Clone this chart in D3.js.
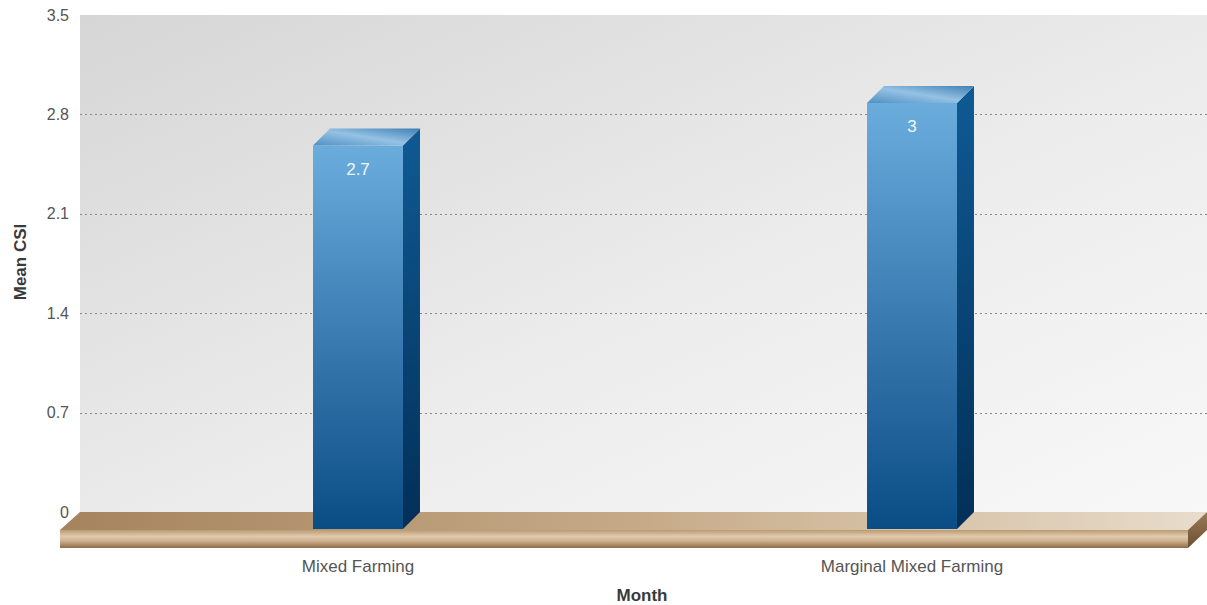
<!DOCTYPE html>
<html>
<head>
<meta charset="utf-8">
<script src="https://cdn.jsdelivr.net/npm/d3@7"></script>
<style>
  html, body { margin: 0; padding: 0; background: #ffffff; }
  svg { display: block; font-family: "Liberation Sans", Arial, Helvetica, sans-serif; }
</style>
</head>
<body>
<svg id="chart" width="1207" height="605"></svg>
<script>
// Chart data
const categories = ["Mixed Farming", "Marginal Mixed Farming"];
const meanCSI = [2.7, 3];
const yTicks = [0, 0.7, 1.4, 2.1, 2.8, 3.5];
const xTitle = "Month";
const yTitle = "Mean CSI";

const svg = d3.select("#chart");

// Geometry of the 3D scene
const wall = { left: 80, right: 1207, top: 15, bottom: 512 };
const depth = 17;          // bar depth (offset up/right)
const floorDx = 20, floorDy = 18, floorThick = 18;

// Scales: back wall for gridlines, front plane for bars
const yBack = d3.scaleLinear().domain([0, 3.5]).range([wall.bottom, wall.top]);
const yFront = d3.scaleLinear().domain([0, 3.5]).range([wall.bottom + depth, wall.top + depth]);
const x = d3.scaleBand().domain(categories).range([81, 1189]).paddingInner(0.8376).paddingOuter(0.4188);

const defs = svg.append("defs");
function lin(id, x1, y1, x2, y2, stops) {
  const g = defs.append("linearGradient").attr("id", id)
    .attr("x1", x1).attr("y1", y1).attr("x2", x2).attr("y2", y2);
  stops.forEach(([o, c]) => g.append("stop").attr("offset", o).attr("stop-color", c));
}
lin("wallGrad", 0, 0, 1, 1, [[0, "#d6d6d6"], [0.55, "#ececec"], [1, "#f8f8f8"]]);
lin("floorTop", 0, 0, 1, 0, [[0, "#a5835e"], [0.5, "#c6aa87"], [1, "#e8dccb"]]);
lin("floorFront", 0, 0, 0, 1, [[0, "#bb9a73"], [0.35, "#dfcaad"], [0.6, "#cfb290"], [1, "#8d6b48"]]);
lin("floorSide", 0, 0, 0, 1, [[0, "#9a7a55"], [1, "#6d5033"]]);
lin("barFront", 0, 0, 0, 1, [[0, "#6aaddd"], [0.5, "#3a7bb1"], [1, "#0a4d85"]]);
lin("barSide", 0, 0, 0, 1, [[0, "#0f5a94"], [1, "#022f57"]]);
lin("barTop", 0, 1, 1, 0, [[0, "#4f8fc3"], [0.5, "#95c2e4"], [1, "#3f7fb4"]]);

// Back wall
svg.append("rect")
  .attr("x", wall.left).attr("y", wall.top)
  .attr("width", wall.right - wall.left).attr("height", wall.bottom - wall.top)
  .attr("fill", "url(#wallGrad)");

// Tick labels on the back wall
const yAxis = d3.axisLeft(yBack).tickValues(yTicks).tickSize(0).tickPadding(11)
  .tickFormat(d => d3.format("")(d));
const gAxis = svg.append("g").attr("transform", `translate(${wall.left},0)`).call(yAxis);
gAxis.select(".domain").remove();
gAxis.selectAll("text").attr("fill", "#555").attr("font-size", 16)
  .attr("font-family", "'Liberation Sans', Arial, sans-serif");

// Dotted gridlines
svg.append("g").selectAll("line").data(yTicks.filter(d => d > 0 && d < 3.5)).join("line")
  .attr("x1", wall.left).attr("x2", wall.right)
  .attr("y1", d => Math.round(yBack(d)) + 0.5).attr("y2", d => Math.round(yBack(d)) + 0.5)
  .attr("stroke", "#8a8a8a").attr("stroke-width", 1).attr("stroke-dasharray", "2,3");

// Floor slab
const fb = wall.bottom, ff = wall.bottom + floorDy;
const floorL = wall.left - floorDx, floorR = wall.right - floorDx + 1;
const fg = svg.append("g");
fg.append("path")
  .attr("d", `M${wall.left},${fb}L${wall.right},${fb}L${floorR},${ff}L${floorL},${ff}Z`)
  .attr("fill", "url(#floorTop)");
fg.append("rect")
  .attr("x", floorL).attr("y", ff).attr("width", floorR - floorL).attr("height", floorThick)
  .attr("fill", "url(#floorFront)");
fg.append("path")
  .attr("d", `M${floorR},${ff}L${wall.right},${fb}L${wall.right},${fb + floorThick}L${floorR},${ff + floorThick}Z`)
  .attr("fill", "url(#floorSide)");

// 3D bars
const bw = x.bandwidth();
const bars = svg.append("g").selectAll("g").data(categories.map((c, i) => ({ c, v: meanCSI[i] }))).join("g");
bars.append("rect")
  .attr("x", d => x(d.c)).attr("y", d => yFront(d.v))
  .attr("width", bw).attr("height", d => yFront(0) - yFront(d.v))
  .attr("fill", "url(#barFront)");
bars.append("path")
  .attr("d", d => {
    const x0 = x(d.c) + bw, yt = yFront(d.v), yb = yFront(0);
    return `M${x0},${yt}L${x0 + depth},${yt - depth}L${x0 + depth},${yb - depth}L${x0},${yb}Z`;
  })
  .attr("fill", "url(#barSide)");
bars.append("path")
  .attr("d", d => {
    const x0 = x(d.c), yt = yFront(d.v);
    return `M${x0},${yt}L${x0 + depth},${yt - depth}L${x0 + bw + depth},${yt - depth}L${x0 + bw},${yt}Z`;
  })
  .attr("fill", "url(#barTop)");
bars.append("text")
  .attr("x", d => x(d.c) + bw / 2).attr("y", d => yFront(d.v) + 29)
  .attr("text-anchor", "middle").attr("fill", "#f2f6fa").attr("font-size", 17)
  .text(d => d.v);

// Category labels
svg.append("g").selectAll("text").data(categories).join("text")
  .attr("x", d => x(d) + bw / 2).attr("y", 572)
  .attr("text-anchor", "middle").attr("fill", "#555").attr("font-size", 17)
  .text(d => d);

// Axis titles
svg.append("text").attr("x", 642).attr("y", 601).attr("text-anchor", "middle")
  .attr("font-size", 17).attr("font-weight", "bold").attr("fill", "#3a3a3a").text(xTitle);
svg.append("text").attr("transform", "translate(26,262) rotate(-90)").attr("text-anchor", "middle")
  .attr("font-size", 17).attr("font-weight", "bold").attr("fill", "#3a3a3a").text(yTitle);
</script>
</body>
</html>
